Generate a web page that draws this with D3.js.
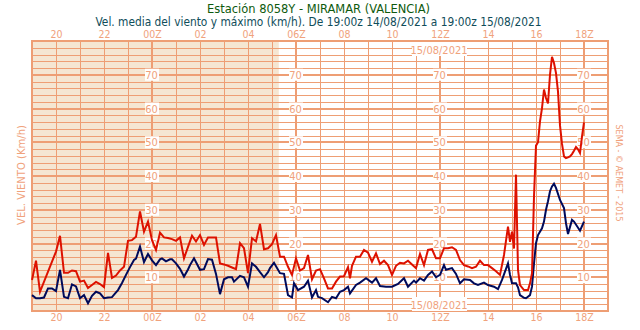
<!DOCTYPE html>
<html><head><meta charset="utf-8">
<script src="https://cdn.jsdelivr.net/npm/d3@7"></script>
<style>
html,body{margin:0;padding:0;background:#fff;}
svg{display:block;}
text{font-family:"DejaVu Sans Condensed","DejaVu Sans",sans-serif;}
</style></head>
<body>
<svg id="c" width="640" height="330"></svg>
<script>
const titleText = "Estación 8058Y - MIRAMAR (VALENCIA)";
const subtitleText = "Vel. media del viento y máximo (km/h). De 19:00z 14/08/2021 a 19:00z 15/08/2021";
const yLabel = "VEL. VIENTO (Km/h)";
const creditText = "SEMA - © AEMET - 2015";
const dateLabel = "15/08/2021";
const tickHours = ["20:00","22:00","00:00","02:00","04:00","06:00","08:00","10:00","12:00","14:00","16:00","18:00"];
const tickLabels = ["20","22","00Z","02","04","06Z","08","10","12Z","14","16","18Z"];
const valueLabels = [10,20,30,40,50,60,70];
const labelColumns = ["00:00","06:00","12:00","18:00"];
const nightEnd = "05:17";

// Racha máxima (red)
const maxTimes = ["19:00","19:10","19:20","20:00","20:10","20:20","20:30","20:40","20:50","21:00","21:10","21:20","21:30","21:40","21:50","22:00","22:10","22:20","22:30","22:40","22:50","23:00","23:10","23:20","23:30","23:40","23:50",
"00:00","00:10","00:20","00:30","00:40","00:50","01:00","01:10","01:20","01:30","01:40","01:50","02:00","02:10","02:20","02:30","02:40","02:50","03:00","03:10","03:20","03:30","03:40","03:50","04:00","04:10","04:20","04:30","04:40","04:50","05:00","05:10","05:20","05:30","05:40","05:50",
"06:00","06:10","06:20","06:30","06:40","06:50","07:00","07:10","07:20","07:30","07:40","07:50","08:00","08:10","08:15","08:20","08:30","08:40","08:50","09:00","09:10","09:20","09:30","09:40","09:50","10:00","10:10","10:20","10:30","10:40","10:50","11:00","11:10","11:20","11:30","11:40","11:50",
"12:00","12:10","12:20","12:30","12:40","12:50","13:00","13:10","13:20","13:30","13:40","13:50","14:00","14:10","14:20","14:30","14:40","14:50","14:55","15:00","15:05","15:10","15:15","15:20","15:30","15:40","15:45","15:50","15:55","16:00","16:05","16:10","16:15","16:20","16:25","16:30","16:35","16:40","16:45","16:50","16:55","17:00","17:05","17:10","17:15","17:20","17:25","17:30","17:35","17:40","17:45","17:50","17:55","18:00"];
const maxValues = [9.2,14.9,5.7,17.6,22.3,11.3,11.3,12,11.8,8.7,9,6.8,7.7,8.6,8,7.1,17.2,9.8,10.5,12,13.1,20.8,21,22,29.5,23.5,26.5,
21,18.1,23.2,21.8,21.6,21.3,20.8,21.8,15.6,19,22.3,20.6,22.5,19.6,21.8,21.8,21.8,14.1,13.8,13.4,12.9,12.4,20.1,18.6,11.2,21.6,20.6,25.8,18.3,18.6,19.8,22.5,16.1,16.1,13.1,10.7,
15.6,12,12.7,16.6,9.4,12,12.4,9.7,6.7,6.7,8.7,10.2,10.3,13,9.7,13.4,16.1,16.1,18.1,17.3,14.6,17.1,13.9,14.9,13.6,10.7,13.4,14.3,14.1,14.9,13.8,12.7,16.9,13.6,18.1,18.3,15.6,
15.6,18.6,18.6,18.9,18.1,15.1,13.6,13.2,12.7,13.1,14.9,13.6,13.6,12.7,11.8,10.7,16.6,25,20.5,23.5,18.5,40.4,12.2,7.7,6.2,6.2,8.2,11.2,33.9,49,50,56.2,60.1,65.6,63.1,61.5,70,75.3,73.5,70.5,65,55,49.5,45.8,45.3,45.5,45.8,46.5,47.5,48.6,47.9,46.8,51.7,55.9];

// Velocidad media (navy)
const meanTimes = ["19:00","19:10","19:20","19:30","19:40","19:50","20:00","20:10","20:20","20:30","20:40","20:50","21:00","21:10","21:20","21:30","21:40","21:50","22:00","22:10","22:20","22:30","22:35","22:45","22:55","23:05","23:15","23:20","23:30","23:40","23:50",
"00:00","00:10","00:20","00:25","00:35","00:45","00:50","01:00","01:10","01:20","01:30","01:35","01:45","02:00","02:10","02:20","02:30","02:40","02:50","03:00","03:10","03:20","03:25","03:40","03:50","04:00","04:10","04:20","04:30","04:40","04:50","04:55","05:05","05:20","05:30","05:40","05:50","05:55",
"06:05","06:20","06:30","06:40","06:50","06:55","07:05","07:20","07:30","07:40","07:50","08:00","08:10","08:15","08:30","08:40","08:55","09:10","09:20","09:30","09:45","10:00","10:15","10:30","10:40","10:55","11:00","11:10","11:20","11:30","11:40","11:50",
"12:00","12:10","12:15","12:30","12:40","12:50","13:00","13:15","13:25","13:35","13:50","14:00","14:15","14:25","14:35","14:50","14:55","15:00","15:10","15:15","15:20","15:30","15:35","15:45","15:50","15:55","16:00","16:05","16:15","16:20","16:25","16:30","16:35","16:40","16:45","16:50","17:00","17:10","17:15","17:20","17:30","17:35","17:50","18:00"];
const meanValues = [4.7,3.8,3.8,4,6.7,6.7,5.9,12.2,4.2,3.8,7.9,7.3,3.8,4.7,2.3,4.5,5.7,5.2,3.8,4,4.1,5.5,6.2,8.3,10.7,13,15.1,15.5,19.1,14.5,16.9,
15,13.6,15.3,15.6,14.7,15.3,15.3,14.1,12.5,10.2,12.3,13.6,15.6,12.2,12.4,15.4,15.2,11,5,9.4,10,10,8.7,10.4,10,7.2,14.1,13.1,11.5,10,11.5,12.7,14.3,11.2,11,4.7,4,8.2,
6.2,7.2,9,4,6.2,4.2,3.8,2.6,4.2,3.8,5.7,6.2,7.2,5.2,7.7,8.4,9.7,8.4,9.7,7.4,7.2,7.2,8,9.7,7.2,9,8.4,9.7,9,10.7,11.7,10,
10.7,13.6,12.2,12.7,11,8.2,9.4,9.2,8.2,7.7,8.4,7.7,7.2,6.5,9.2,14.1,10.7,8.2,8.2,7,4.7,3.9,3.8,4.7,7.2,14.1,20.1,22.5,24.5,26.5,30,32.5,35.5,36.9,37.7,36.5,32.9,30.5,26,22.8,27,26.5,23.8,26.5];

const W = 640, H = 330;
const L = 32, R = 608, T = 41, B = 311;
const salmon = "#ee9e74", labelSalmon = "#f0a27c";
const nightFill = "#f5e6d2";

function toDate(hm){
  const [h,m] = hm.split(":").map(Number);
  return new Date(Date.UTC(2021, 7, h >= 19 ? 14 : 15, h, m));
}
const t0 = new Date(Date.UTC(2021,7,14,19,0)), t1 = new Date(Date.UTC(2021,7,15,19,0));
const x = d3.scaleUtc().domain([t0,t1]).range([L,R]);
const y = d3.scaleLinear().domain([0,80]).range([B,T]);

const svg = d3.select("#c");

// night shading
svg.append("rect").attr("x", L).attr("y", T).attr("width", x(toDate(nightEnd)) - L).attr("height", B - T).attr("fill", nightFill);

const grid = svg.append("g");
// horizontal grid
d3.range(2, 80, 2).forEach(v => {
  const major = v % 10 === 0;
  grid.append("line").attr("x1", L).attr("x2", R).attr("y1", Math.round(y(v)) + (major?0:0.5)).attr("y2", Math.round(y(v)) + (major?0:0.5))
    .attr("stroke", salmon).attr("stroke-width", major ? 2 : 1);
});
// vertical grid hourly
d3.utcHour.range(t0, t1).forEach(d => {
  if (+d === +t0) return;
  const major = d.getUTCHours() % 6 === 0;
  const px = Math.round(x(d));
  grid.append("line").attr("x1", major ? px : px + 0.5).attr("x2", major ? px : px + 0.5).attr("y1", T).attr("y2", B)
    .attr("stroke", salmon).attr("stroke-width", major ? 2 : 1);
});
// border
svg.append("rect").attr("x", L).attr("y", T).attr("width", R - L).attr("height", B - T)
  .attr("fill", "none").attr("stroke", salmon).attr("stroke-width", 2);

// value labels with white boxes
const vl = svg.append("g");
labelColumns.forEach(c => {
  const cx = x(toDate(c));
  valueLabels.forEach(v => {
    vl.append("rect").attr("x", cx - 7).attr("y", y(v) - 6).attr("width", 14).attr("height", 12).attr("fill", "#fff");
    vl.append("text").attr("x", cx - 0.5).attr("y", y(v) + 4).attr("text-anchor", "middle")
      .attr("font-size", 11).attr("fill", labelSalmon).text(v);
  });
});

// date labels
const dx = x(toDate("12:00"));
[{yy: 49, by: 54}, {yy: 304, by: 309}].forEach(p => {
  svg.append("rect").attr("x", dx - 28).attr("y", p.yy - 7).attr("width", 55).attr("height", 14).attr("fill", "#fff");
  svg.append("text").attr("x", dx - 1).attr("y", p.by).attr("text-anchor", "middle").attr("font-size", 11)
    .attr("fill", labelSalmon).text(dateLabel);
});

// axes labels
const tickDates = tickHours.map(toDate);
const fmt = (d, i) => tickLabels[i];
const topAxis = d3.axisTop(x).tickValues(tickDates).tickFormat(fmt).tickSize(0).tickPadding(0);
const botAxis = d3.axisBottom(x).tickValues(tickDates).tickFormat(fmt).tickSize(0).tickPadding(0);
const ga = svg.append("g").attr("transform", "translate(0,37.5)").call(topAxis);
const gb = svg.append("g").attr("transform", "translate(0,312)").call(botAxis);
[ga, gb].forEach(g => {
  g.select(".domain").remove();
  g.selectAll("text").attr("font-size", 10.5).attr("fill", labelSalmon)
    .attr("font-family", "'DejaVu Sans Condensed','DejaVu Sans',sans-serif");
});
gb.selectAll("text").attr("dy", "0.71em").attr("y", 1.5);

// lines
const line = d3.line().x(d => x(d[0])).y(d => y(d[1]));
const maxData = maxTimes.map((t,i) => [toDate(t), maxValues[i]]);
const meanData = meanTimes.map((t,i) => [toDate(t), meanValues[i]]);
svg.append("path").datum(meanData).attr("d", line).attr("fill", "none").attr("stroke", "#000a5a").attr("stroke-width", 2).attr("stroke-linejoin", "miter");
svg.append("path").datum(maxData).attr("d", line).attr("fill", "none").attr("stroke", "#dd1100").attr("stroke-width", 2).attr("stroke-linejoin", "miter");

// titles
svg.append("text").attr("x", 318.5).attr("y", 13).attr("text-anchor", "middle").attr("font-size", 11.5)
  .attr("fill", "#0e5a0e").attr("textLength", 223).attr("lengthAdjust", "spacingAndGlyphs").text(titleText);
svg.append("text").attr("x", 318.5).attr("y", 25.5).attr("text-anchor", "middle").attr("font-size", 11.5)
  .attr("fill", "#0f4d5a").attr("textLength", 446).attr("lengthAdjust", "spacingAndGlyphs").text(subtitleText);

// side labels
svg.append("text").attr("transform", "translate(25,175) rotate(-90)").attr("text-anchor", "middle")
  .attr("font-size", 11).attr("fill", labelSalmon).attr("textLength", 100).attr("lengthAdjust", "spacingAndGlyphs").text(yLabel);
svg.append("text").attr("transform", "translate(616,173) rotate(90)").attr("text-anchor", "middle")
  .attr("font-size", 9).attr("fill", labelSalmon).attr("textLength", 97).attr("lengthAdjust", "spacingAndGlyphs").text(creditText);
</script>
</body></html>
